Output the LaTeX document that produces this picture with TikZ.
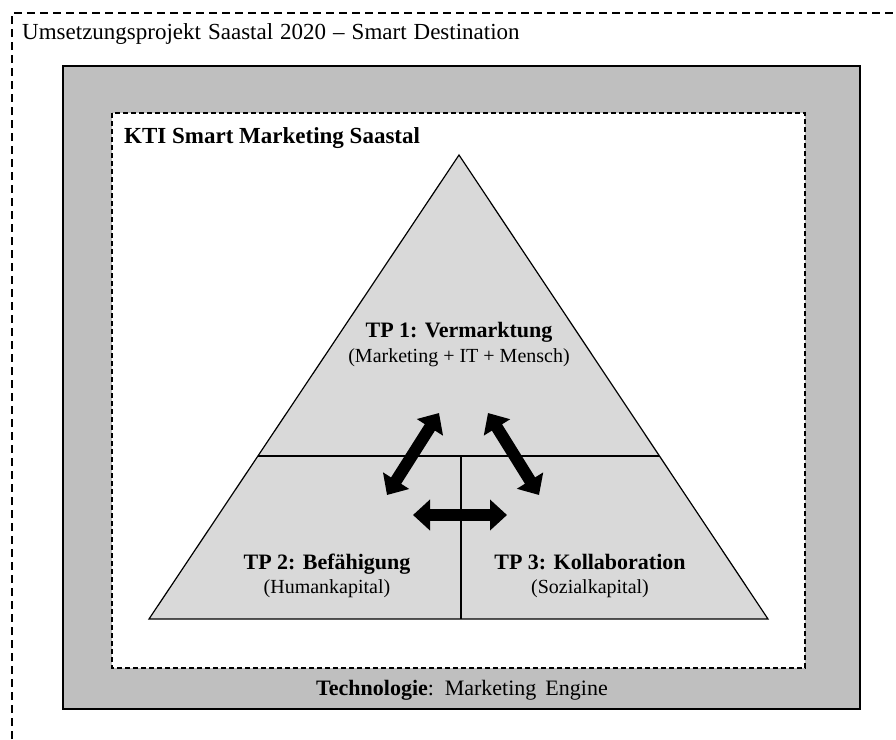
\documentclass[tikz,border=0pt]{standalone}
\usepackage{fontspec}
\setmainfont{Liberation Serif}
\usetikzlibrary{arrows.meta,calc}
\definecolor{techgray}{HTML}{BFBFBF}
\definecolor{tpgray}{HTML}{D9D9D9}
\newcommand{\widespace}[1]{\spaceskip=#1\relax}
\tikzset{outerframe/.style={draw,line width=1.6pt,dash pattern=on 8pt off 5pt}}
\tikzset{techframe/.style={draw,line width=2pt,fill=techgray}}
\tikzset{ktiframe/.style={draw,line width=1.6pt,dash pattern=on 5pt off 3pt,fill=white}}
\tikzset{tpface/.style={draw,line width=1.2pt,fill=tpgray}}
\tikzset{tpline/.style={draw,line width=1.2pt}}
\tikzset{bigarrow/.style={line width=12pt,{Triangle[width=30pt,length=17pt]}-{Triangle[width=30pt,length=17pt]}}}
\tikzset{tptitle/.style={anchor=base,inner sep=0pt,font=\fontsize{22}{24}\selectfont\bfseries}}
\tikzset{tpsub/.style={anchor=base,inner sep=0pt,font=\fontsize{20}{24}\selectfont}}

\begin{document}
\begin{tikzpicture}[x=1pt,y=-1pt]
    \useasboundingbox (0,0) rectangle (896,739);

    % frames
    \draw[outerframe] (12,739) -- (12,13) -- (896,13);
    \draw[techframe] (63,66) rectangle (860,709);
    \draw[ktiframe] (112,113) rectangle (805,668);

    \node[anchor=base west,inner sep=0pt,font=\fontsize{23}{26}\selectfont] (projekt) at (22,39)
      {\widespace{7pt}Umsetzungsprojekt Saastal 2020 -- Smart Destination};
    \node[anchor=base west,inner sep=0pt,font=\fontsize{23}{26}\selectfont\bfseries] (kti) at (124,143)
      {KTI Smart Marketing Saastal};
    \node[anchor=base,inner sep=0pt,font=\fontsize{22}{24}\selectfont] (tech) at (462,695)
      {\widespace{9pt}\textbf{Technologie}: Marketing Engine};

    % pyramid
    \coordinate (apex) at (459,155);
    \coordinate (bl) at (149,619);
    \coordinate (br) at (768,619);
    \coordinate (ml) at ($(apex)!0.6487!(bl)$);
    \coordinate (mr) at ($(apex)!0.6487!(br)$);
    \coordinate (mt) at (461,456);
    \coordinate (mb) at (461,619);
    \draw[tpface] (apex) -- (bl) -- (br) -- cycle;
    \draw[tpline] (ml) -- (mr);
    \draw[tpline] (mt) -- (mb);

    \node[tptitle] (tp1) at (459,337) {TP 1: Vermarktung};
    \node[tpsub] (tp1sub) at (459,362) {(Marketing + IT + Mensch)};
    \node[tptitle] (tp2) at (327,569) {TP 2: Befähigung};
    \node[tpsub] (tp2sub) at (327,593) {(Humankapital)};
    \node[tptitle] (tp3) at (590,569) {TP 3: Kollaboration};
    \node[tpsub] (tp3sub) at (590,593) {(Sozialkapital)};

    % arrows between the parts
    \coordinate (tp1l) at (439,413);
    \coordinate (tp2u) at (387,495);
    \coordinate (tp1r) at (488,413);
    \coordinate (tp3u) at (539,495);
    \coordinate (tp2r) at (413,515);
    \coordinate (tp3l) at (507,515);
    \draw[bigarrow] (tp1l) -- (tp2u);
    \draw[bigarrow] (tp1r) -- (tp3u);
    \draw[bigarrow] (tp2r) -- (tp3l);
\end{tikzpicture}
\end{document}
